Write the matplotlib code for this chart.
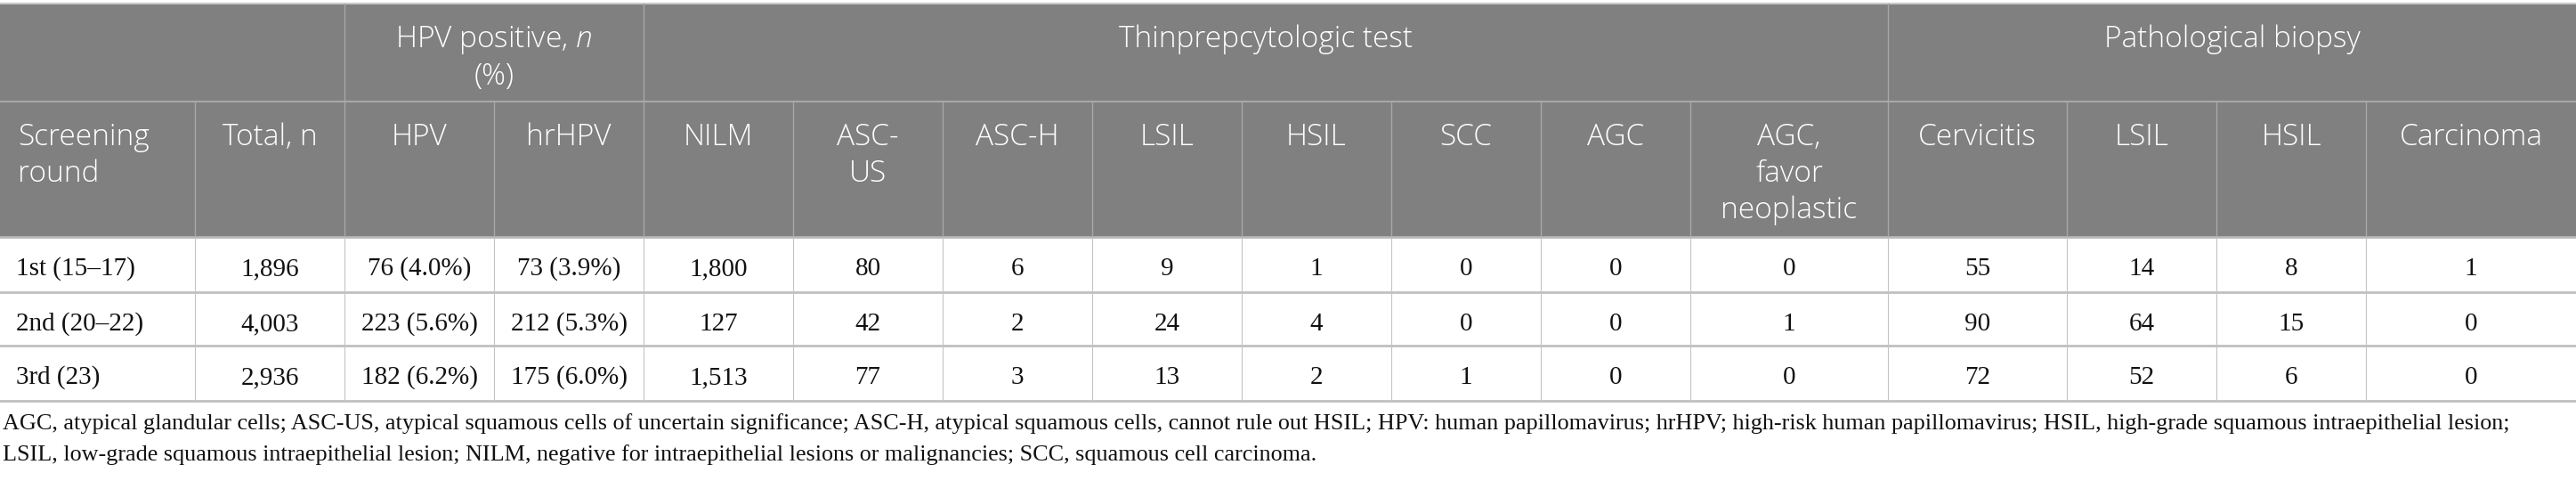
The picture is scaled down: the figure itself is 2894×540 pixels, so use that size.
import matplotlib.pyplot as plt
from matplotlib.patches import Rectangle

plt.rcParams['mathtext.fontset'] = 'custom'
plt.rcParams['mathtext.it'] = 'Open Sans:italic:light'
plt.rcParams['mathtext.rm'] = 'Open Sans:light'

# data
rounds = ["1st (15\u201317)", "2nd (20\u201322)", "3rd (23)"]
total = [1896, 4003, 2936]
hpv = [76, 223, 182]
hpv_pct = [4.0, 5.6, 6.2]
hrhpv = [73, 212, 175]
hrhpv_pct = [3.9, 5.3, 6.0]
nilm = [1800, 127, 1513]
ascus = [80, 42, 77]
asch = [6, 2, 3]
lsil = [9, 24, 13]
hsil = [1, 4, 2]
scc = [0, 0, 1]
agc = [0, 0, 0]
agc_fn = [0, 1, 0]
cervicitis = [55, 90, 72]
b_lsil = [14, 64, 52]
b_hsil = [8, 15, 6]
carcinoma = [1, 0, 0]

col_labels = ["Screening\nround", "Total, n", "HPV", "hrHPV", "NILM", "ASC-\nUS",
              "ASC-H", "LSIL", "HSIL", "SCC", "AGC", "AGC,\nfavor\nneoplastic",
              "Cervicitis", "LSIL", "HSIL", "Carcinoma"]
groups = [("", 0, 2), ("HPV positive, $n$\n(%)", 2, 4),
          ("Thinprepcytologic test", 4, 12), ("Pathological biopsy", 12, 16)]
footnote = ["AGC, atypical glandular cells; ASC-US, atypical squamous cells of uncertain significance; "
            "ASC-H, atypical squamous cells, cannot rule out HSIL; HPV: human papillomavirus; hrHPV; "
            "high-risk human papillomavirus; HSIL, high-grade squamous intraepithelial lesion;",
            "LSIL, low-grade squamous intraepithelial lesion; NILM, negative for intraepithelial "
            "lesions or malignancies; SCC, squamous cell carcinoma."]

rows = []
for i in range(3):
    rows.append([rounds[i], f"{total[i]:,}",
                 f"{hpv[i]} ({hpv_pct[i]:.1f}%)", f"{hrhpv[i]} ({hrhpv_pct[i]:.1f}%)",
                 f"{nilm[i]:,}", str(ascus[i]), str(asch[i]), str(lsil[i]), str(hsil[i]),
                 str(scc[i]), str(agc[i]), str(agc_fn[i]),
                 str(cervicitis[i]), str(b_lsil[i]), str(b_hsil[i]), str(carcinoma[i])])

# layout (pixels)
W, H = 2894, 540
xs = [0, 219, 387, 555, 723, 891, 1059, 1227, 1395, 1563, 1731, 1899, 2121, 2322, 2490, 2658, 2894]
ys = [4, 114, 266, 328, 388, 450]
head_bg = '#808080'
sans = 'Open Sans'
serif = 'Liberation Serif'

fig = plt.figure(figsize=(W / 100, H / 100), dpi=100)
ax = fig.add_axes([0, 0, 1, 1])
ax.set_xlim(0, W)
ax.set_ylim(H, 0)
ax.axis('off')

ax.add_patch(Rectangle((0, ys[0]), W, ys[2] - ys[0], color=head_bg, lw=0))
ax.plot([0, W], [ys[0], ys[0]], color='#c8c8c8', lw=1.5)
ax.plot([0, W], [ys[1], ys[1]], color='#a8a8a8', lw=1.5)
ax.plot([0, W], [ys[2], ys[2]], color='#b8b8b8', lw=2)

# header row 1
for label, a, b in groups:
    if a > 0:
        ax.plot([xs[a], xs[a]], [ys[0], ys[1]], color='#a8a8a8', lw=1)
    for k, line in enumerate(label.split("\n")):
        if line:
            ax.text((xs[a] + xs[b]) / 2, 53 + k * 42, line, ha='center', va='baseline',
                    color='white', fontsize=24, family=sans, weight='light')

# header row 2
for j, label in enumerate(col_labels):
    if j > 0:
        ax.plot([xs[j], xs[j]], [ys[1], ys[2]], color='#a8a8a8', lw=1)
    for k, line in enumerate(label.split("\n")):
        if j == 0:
            ax.text(xs[j] + 20, 163 + k * 41, line, ha='left', va='baseline',
                    color='white', fontsize=24, family=sans, weight='light')
        else:
            ax.text((xs[j] + xs[j + 1]) / 2, 163 + k * 41, line, ha='center', va='baseline',
                    color='white', fontsize=24, family=sans, weight='light')

# body
for i, row in enumerate(rows):
    top, bot = ys[2 + i], ys[3 + i]
    ax.plot([0, W], [bot, bot], color='#c0c0c0', lw=2)
    for j, val in enumerate(row):
        if j > 0:
            ax.plot([xs[j], xs[j]], [top, bot], color='#c4c4c4', lw=0.8)
        if j == 0:
            ax.text(xs[j] + 18, top + 43, val, ha='left', va='baseline',
                    fontsize=21, family=serif, color='#111111')
        else:
            ax.text((xs[j] + xs[j + 1]) / 2, top + 43, val, ha='center', va='baseline',
                    fontsize=21, family=serif, color='#111111')

for k, line in enumerate(footnote):
    ax.text(3, 482 + k * 35, line, ha='left', va='baseline', fontsize=18.8,
            family=serif, color='#111111')

fig.savefig('out.png', dpi=100, facecolor='white')
